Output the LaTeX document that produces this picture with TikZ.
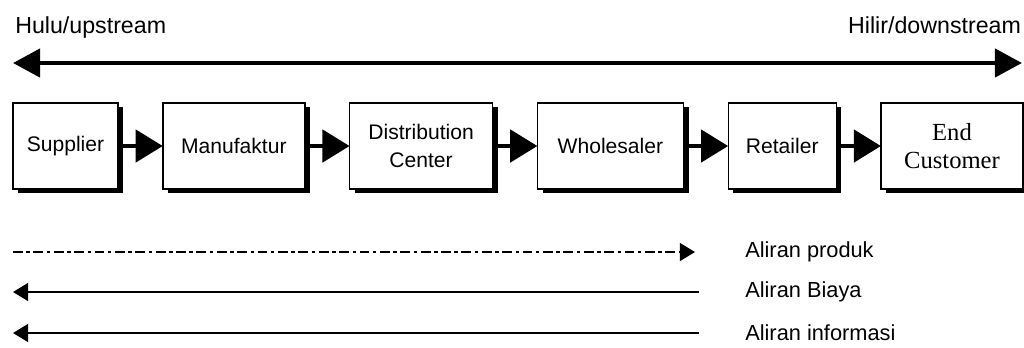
\documentclass[tikz,border=0pt]{standalone}
\usepackage{fontspec}
\setmainfont{Liberation Sans}
\newfontfamily\serifface{Liberation Serif}
\usetikzlibrary{positioning, arrows.meta, shadows}

\begin{document}
\begin{tikzpicture}[
    font=\fontsize{15}{19.5}\selectfont,
    node distance=1.12cm,
    chainbox/.style={rectangle, draw, line width=1pt, fill=white, minimum height=2.15cm, align=center, inner sep=0pt, outer sep=0pt,
        drop shadow={shadow xshift=0.13cm, shadow yshift=-0.11cm, fill=black, opacity=1}},
    flow/.style={-{Triangle[length=0.68cm, width=0.8cm]}, line width=3.5pt},
    bigarrow/.style={{Triangle[length=0.68cm, width=0.7cm]}-{Triangle[length=0.68cm, width=0.7cm]}, line width=3.5pt},
    legend/.style={line width=1.3pt},
    lbl/.style={inner sep=0pt},
    toplbl/.style={lbl, font=\fontsize{16.5}{20}\selectfont},
    legendlbl/.style={lbl, anchor=west, font=\fontsize{15.5}{19}\selectfont}
]
\useasboundingbox (0,0) rectangle (25.6,-8.675);

\node[toplbl, anchor=base west] (hulu) at (0.375,-0.825) {Hulu/upstream};
\node[toplbl, anchor=base east] (hilir) at (25.53,-0.825) {Hilir/downstream};
\coordinate (upend) at (0.325,-1.575);
\coordinate (downend) at (25.55,-1.575);
\draw[bigarrow] (upend) -- (downend);

\node[chainbox, minimum width=2.625cm] (supplier) at (1.6375,-3.65) {Supplier};
\node[chainbox, minimum width=3.55cm, right=of supplier] (manuf) {Manufaktur};
\node[chainbox, minimum width=3.575cm, right=of manuf] (dc) {Distribution\\Center};
\node[chainbox, minimum width=3.65cm, right=of dc] (wholesaler) {Wholesaler};
\node[chainbox, minimum width=2.7cm, right=of wholesaler] (retailer) {Retailer};
\node[chainbox, minimum width=3.55cm, right=of retailer, font=\serifface\fontsize{17.5}{20}\selectfont] (endcust) {End\\Customer};

\draw[flow] (supplier) -- (manuf);
\draw[flow] (manuf) -- (dc);
\draw[flow] (dc) -- (wholesaler);
\draw[flow] (wholesaler) -- (retailer);
\draw[flow] (retailer) -- (endcust);

\node[legendlbl] (produk) at (18.625,-6.3) {Aliran produk};
\node[legendlbl] (biaya) at (18.625,-7.3) {Aliran Biaya};
\node[legendlbl] (info) at (18.625,-8.325) {Aliran informasi};

\coordinate (produkstart) at (0.325,-6.3);
\coordinate (produkend) at (17.375,-6.3);
\coordinate (biayastart) at (17.475,-7.3);
\coordinate (biayaend) at (0.325,-7.3);
\coordinate (infostart) at (17.475,-8.325);
\coordinate (infoend) at (0.325,-8.325);

\draw[legend, dash pattern=on 7pt off 2.5pt on 2.5pt off 2.5pt, -{Triangle[length=0.38cm, width=0.45cm]}] (produkstart) -- (produkend);
\draw[legend, -{Triangle[length=0.38cm, width=0.45cm]}] (biayastart) -- (biayaend);
\draw[legend, -{Triangle[length=0.38cm, width=0.45cm]}] (infostart) -- (infoend);

\end{tikzpicture}
\end{document}
